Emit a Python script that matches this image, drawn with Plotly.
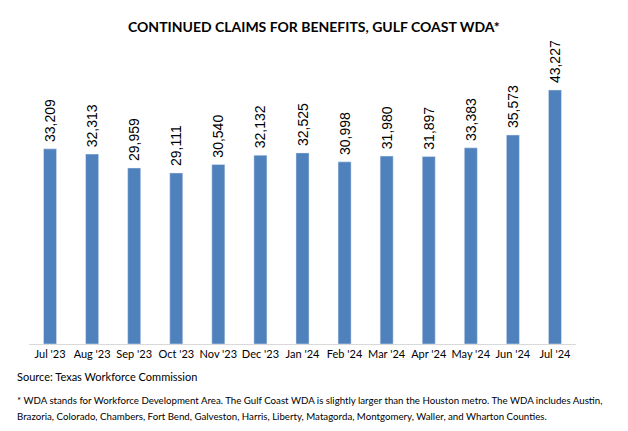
import plotly.graph_objects as go

months = ["Jul '23", "Aug '23", "Sep '23", "Oct '23", "Nov '23", "Dec '23", "Jan '24",
          "Feb '24", "Mar '24", "Apr '24", "May '24", "Jun '24", "Jul '24"]
claims = [33209, 32313, 29959, 29111, 30540, 32132, 32525, 30998, 31980, 31897, 33383, 35573, 43227]

title_text = "CONTINUED CLAIMS FOR BENEFITS, GULF COAST WDA*"
source_text = "Source: Texas Workforce Commission"
note_line1 = ("* WDA stands for Workforce Development Area. The Gulf Coast WDA is slightly larger than the "
              "Houston metro. The WDA includes Austin,")
note_line2 = ("Brazoria, Colorado, Chambers, Fort Bend, Galveston, Harris, Liberty, Matagorda, Montgomery, "
              "Waller, and Wharton Counties.")

fig = go.Figure(go.Bar(
    x=months, y=claims,
    marker_color="#4F81BD",
    text=["\u00a0" + f"{v:,}" for v in claims],
    textposition="outside",
    textangle=-90,
    constraintext="none",
    textfont=dict(family="Liberation Sans, Arial, sans-serif", size=14, color="#000000"),
    cliponaxis=False,
))

fig.update_layout(
    width=628, height=431,
    margin=dict(l=21, r=60, t=30, b=95),
    paper_bgcolor="white", plot_bgcolor="white",
    bargap=0.69,
    showlegend=False,
    title=dict(text=f"<b>{title_text}</b>", x=0.487, xanchor="center", y=0.955, yanchor="middle",
               font=dict(family="Lato, sans-serif", size=14, color="#000000")),
    font=dict(family="Lato, sans-serif", color="#000000"),
)
fig.update_xaxes(showline=True, linecolor="#D9D9D9", linewidth=1, ticks="", tickangle=0,
                 tickfont=dict(family="Lato, sans-serif", size=11, color="#000000"),
                 showgrid=False)
fig.update_yaxes(range=[0, 52075], visible=False, showgrid=False)

fig.add_annotation(text=source_text, xref="paper", yref="paper", x=-14/547, y=-32/306,
                   xanchor="left", yanchor="middle", showarrow=False,
                   font=dict(family="Lato, sans-serif", size=11, color="#000000"))
fig.add_annotation(text=note_line1, xref="paper", yref="paper", x=-14/547, y=-56/306,
                   xanchor="left", yanchor="middle", showarrow=False,
                   font=dict(family="Lato, sans-serif", size=9.7, color="#000000"))
fig.add_annotation(text=note_line2, xref="paper", yref="paper", x=-14/547, y=-72/306,
                   xanchor="left", yanchor="middle", showarrow=False,
                   font=dict(family="Lato, sans-serif", size=9.7, color="#000000"))

fig.write_html("out.html")
